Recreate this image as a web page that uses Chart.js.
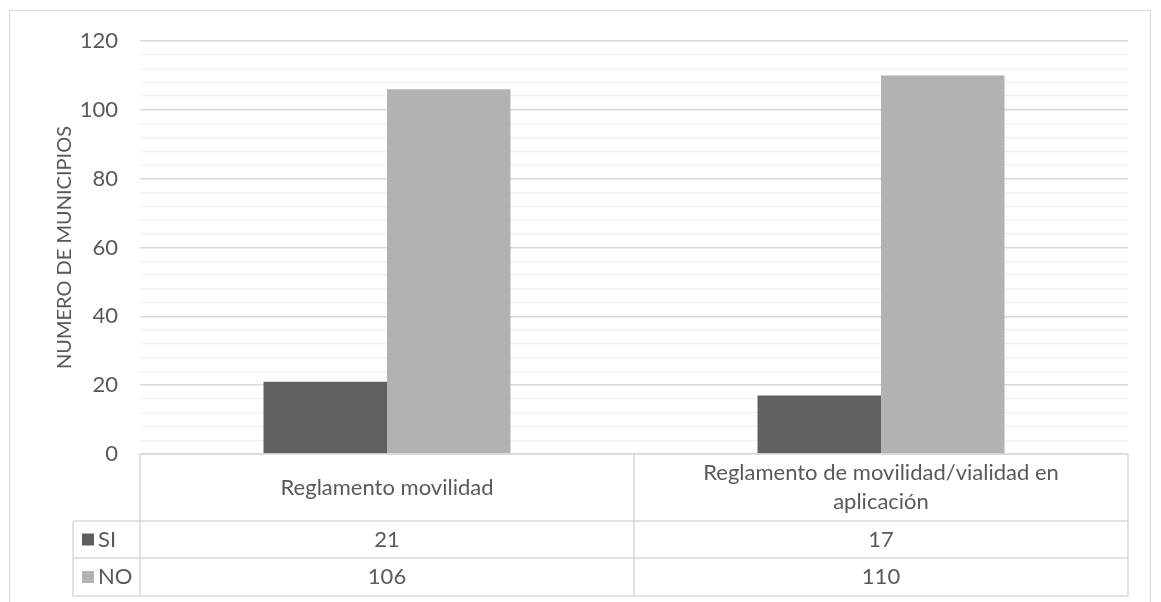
<!DOCTYPE html>
<html>
<head>
<meta charset="utf-8">
<script src="https://cdn.jsdelivr.net/npm/chart.js@4"></script>
<style>
  html, body { margin: 0; padding: 0; background: #fff; }
  #wrap { width: 1161px; height: 602px; position: relative; }
</style>
</head>
<body>
<div id="wrap"><canvas id="chart"></canvas></div>
<script>
const categories = [['Reglamento movilidad'], ['Reglamento de movilidad/vialidad en', 'aplicación']];
const seriesNames = ['SI', 'NO'];
const siValues = [21, 17];
const noValues = [106, 110];
const yTicks = [0, 20, 40, 60, 80, 100, 120];

const seriesColors = ['#606060', '#b2b2b2'];
const FONT = 'Lato, "Open Sans", sans-serif';
const TEXT = '#595959';

// data table under the plot, laid out from the x scale
const dataTable = {
  id: 'dataTable',
  afterDraw(chart) {
    const ctx = chart.ctx;
    const xs = chart.scales.x;
    const area = chart.chartArea;
    const mid = (xs.getPixelForValue(0) + xs.getPixelForValue(1)) / 2;
    const cols = [area.left, mid, area.right];
    const legendLeft = 73;
    const top = area.bottom;
    const rows = [top, top + 67, top + 104, top + 142];

    ctx.save();
    ctx.strokeStyle = '#d9d9d9';
    ctx.lineWidth = 1.5;
    ctx.beginPath();
    ctx.moveTo(area.left, rows[0]); ctx.lineTo(area.right, rows[0]);
    for (let i = 1; i < rows.length; i++) {
      ctx.moveTo(legendLeft, rows[i]); ctx.lineTo(area.right, rows[i]);
    }
    cols.forEach(x => { ctx.moveTo(x, rows[0]); ctx.lineTo(x, rows[3]); });
    ctx.moveTo(legendLeft, rows[1]); ctx.lineTo(legendLeft, rows[3]);
    ctx.stroke();

    ctx.fillStyle = TEXT;
    ctx.font = '22px ' + FONT;
    ctx.textAlign = 'center';
    ctx.textBaseline = 'middle';
    categories.forEach((lines, i) => {
      const cx = (cols[i] + cols[i + 1]) / 2;
      const cy = (rows[0] + rows[1]) / 2;
      lines.forEach((ln, j) => {
        ctx.fillText(ln, cx, cy + (j - (lines.length - 1) / 2) * 29);
      });
    });
    [siValues, noValues].forEach((vals, r) => {
      const cy = (rows[r + 1] + rows[r + 2]) / 2;
      vals.forEach((v, i) => {
        ctx.fillText(String(v), (cols[i] + cols[i + 1]) / 2, cy);
      });
      ctx.fillStyle = seriesColors[r];
      ctx.fillRect(legendLeft + 9, cy - 6, 12, 12);
      ctx.fillStyle = TEXT;
      ctx.textAlign = 'left';
      ctx.fillText(seriesNames[r], legendLeft + 25, cy);
      ctx.textAlign = 'center';
    });

    // outer frame
    ctx.strokeStyle = '#d9d9d9';
    ctx.lineWidth = 1;
    ctx.strokeRect(9.5, 10.5, 1141, 600);
    ctx.restore();
  }
};

new Chart(document.getElementById('chart'), {
  type: 'bar',
  data: {
    labels: categories,
    datasets: [
      { label: seriesNames[0], data: siValues, backgroundColor: seriesColors[0] },
      { label: seriesNames[1], data: noValues, backgroundColor: seriesColors[1] }
    ]
  },
  options: {
    responsive: true,
    maintainAspectRatio: false,
    animation: false,
    datasets: { bar: { categoryPercentage: 0.5, barPercentage: 1.0 } },
    layout: { padding: { left: 53, right: 33, top: 41, bottom: 140 } },
    plugins: { legend: { display: false }, tooltip: { enabled: false } },
    scales: {
      x: {
        ticks: { display: false },
        grid: { display: false },
        border: { display: false }
      },
      y: {
        min: 0,
        max: 120,
        afterFit(scale) { scale.width = 87; },
        afterBuildTicks(scale) {
          const t = [];
          for (let v = 0; v <= 120; v += 4) t.push({ value: v });
          scale.ticks = t;
        },
        ticks: {
          autoSkip: false,
          padding: 22,
          color: TEXT,
          font: { size: 22, family: FONT },
          callback: v => yTicks.includes(v) ? v : ''
        },
        grid: {
          drawTicks: false,
          color: c => c.tick && yTicks.includes(c.tick.value) ? '#d9d9d9' : '#f0f0f0',
          lineWidth: c => c.tick && yTicks.includes(c.tick.value) ? 1.5 : 1.2
        },
        border: { display: false },
        title: {
          display: true,
          text: 'NUMERO DE MUNICIPIOS',
          color: TEXT,
          font: { size: 20, family: FONT },
          padding: 0
        }
      }
    }
  },
  plugins: [dataTable]
});
</script>
</body>
</html>
